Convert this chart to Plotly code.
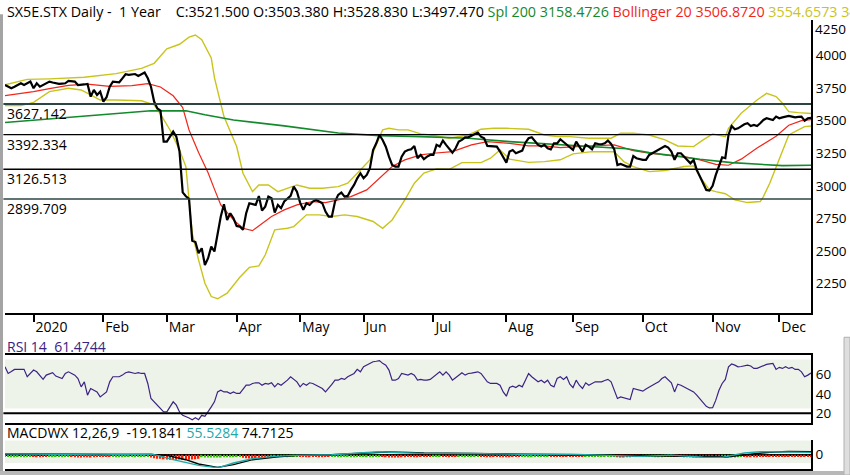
import pandas as pd
import plotly.graph_objects as go

# trading calendar of the chart (STOXX holidays are skipped on the axis)
holidays = ["2019-12-24", "2019-12-25", "2019-12-26", "2019-12-31", "2020-01-01",
            "2020-04-10", "2020-04-13", "2020-05-01"]
first_day, last_day = "2019-12-13", "2020-12-15"
sessions = pd.bdate_range(first_day, last_day, freq="C", holidays=holidays)

month_ticks = ["2020-01-02", "2020-02-03", "2020-03-02", "2020-04-01", "2020-05-04", "2020-06-01",
               "2020-07-01", "2020-08-03", "2020-09-01", "2020-10-01", "2020-11-02", "2020-12-01"]
month_labels = ["2020", "Feb", "Mar", "Apr", "May", "Jun", "Jul", "Aug", "Sep", "Oct", "Nov", "Dec"]
price_ticks = [2250, 2500, 2750, 3000, 3250, 3500, 3750, 4000]
top_tick = 4250  # drawn a little lower by the app so it clears the header

# daily close, one list per month
close_dec19 = [3773, 3760, 3748, 3760, 3773, 3786, 3773, 3786, 3799]
close_jan = [3748, 3786, 3760, 3773, 3786, 3799, 3792, 3786, 3781, 3784, 3786, 3804, 3800, 3799,
             3773, 3773, 3777, 3781, 3684, 3735, 3697, 3722]
close_feb = [3646, 3679, 3760, 3799, 3797, 3794, 3824, 3855, 3850, 3853, 3857, 3842, 3855, 3868,
             3824, 3760, 3646, 3594, 3577, 3339]
close_mar = [3339, 3377, 3416, 3377, 3263, 2950, 2920, 2900, 2580, 2570, 2484, 2522, 2394, 2446,
             2535, 2497, 2637, 2765, 2859, 2739, 2790, 2752]
close_apr = [2693, 2688, 2663, 2790, 2867, 2860, 2854, 2922, 2811, 2841, 2918, 2905, 2795, 2854,
             2829, 2880, 2900, 2923, 2994, 2956]
close_may = [2872, 2816, 2867, 2854, 2880, 2892, 2880, 2867, 2803, 2765, 2765, 2880, 2931, 2949,
             2918, 2923, 2969, 3007, 3058, 3097]
close_jun = [3058, 3084, 3135, 3275, 3326, 3390, 3352, 3300, 3224, 3160, 3148, 3148, 3224, 3263,
             3275, 3280, 3306, 3212, 3237, 3204, 3224, 3237]
close_jul = [3237, 3314, 3301, 3347, 3314, 3280, 3255, 3288, 3339, 3352, 3372, 3372, 3383, 3398,
             3408, 3377, 3365, 3306, 3303, 3301, 3301, 3263, 3219]
close_aug = [3178, 3263, 3275, 3250, 3263, 3270, 3331, 3365, 3372, 3339, 3314, 3301, 3314, 3288,
             3280, 3326, 3326, 3357, 3339, 3314, 3296]
close_sep = [3275, 3339, 3301, 3263, 3314, 3301, 3280, 3326, 3321, 3319, 3326, 3347, 3321, 3280,
             3160, 3168, 3158, 3148, 3148, 3229, 3212, 3205]
close_oct = [3199, 3199, 3237, 3250, 3263, 3275, 3288, 3306, 3293, 3263, 3199, 3250, 3250, 3224,
             3199, 3173, 3199, 3122, 3071, 3020, 2969, 2964]
close_nov = [3000, 3084, 3160, 3219, 3212, 3390, 3459, 3434, 3441, 3459, 3472, 3480, 3459, 3467,
             3459, 3480, 3505, 3518, 3513, 3505, 3531]
close_dec = [3518, 3525, 3531, 3536, 3531, 3525, 3528, 3531, 3500, 3518, 3521.5]

# 200-day simple average
sma_dates = ["2019-12-13", "2020-01-09", "2020-01-31", "2020-02-24", "2020-03-10", "2020-03-18",
             "2020-03-31", "2020-04-24", "2020-05-20", "2020-06-08", "2020-06-25", "2020-07-16",
             "2020-08-04", "2020-08-28", "2020-09-24", "2020-10-05", "2020-10-27", "2020-11-10",
             "2020-11-25", "2020-12-02", "2020-12-15"]
sma200 = [3486, 3512, 3544, 3575, 3576, 3545, 3505, 3460, 3405, 3385, 3377, 3365, 3339, 3314,
          3285, 3255, 3204, 3178, 3160, 3155, 3158.4726]

# Bollinger 20 middle line
mid_dates = ["2019-12-13", "2020-01-02", "2020-01-09", "2020-01-17", "2020-01-27", "2020-02-05",
             "2020-02-14", "2020-02-21", "2020-02-27", "2020-03-04", "2020-03-09", "2020-03-11",
             "2020-03-16", "2020-03-19", "2020-03-23", "2020-03-25", "2020-03-31", "2020-04-03",
             "2020-04-08", "2020-04-15", "2020-04-20", "2020-04-24", "2020-04-30", "2020-05-08",
             "2020-05-14", "2020-05-20", "2020-05-26", "2020-06-02", "2020-06-08", "2020-06-12",
             "2020-06-18", "2020-06-25", "2020-07-01", "2020-07-09", "2020-07-17", "2020-07-24",
             "2020-08-04", "2020-08-12", "2020-08-19", "2020-08-26", "2020-09-02", "2020-09-09",
             "2020-09-18", "2020-09-28", "2020-10-05", "2020-10-12", "2020-10-20", "2020-10-27",
             "2020-11-03", "2020-11-09", "2020-11-13", "2020-11-20", "2020-11-30", "2020-12-04",
             "2020-12-10", "2020-12-15"]
boll_mid = [3692, 3722, 3745, 3770, 3780, 3762, 3768, 3784, 3758, 3690, 3600, 3428, 3255, 3100,
            2975, 2854, 2739, 2675, 2657, 2714, 2765, 2816, 2854, 2880, 2872, 2892, 2918, 2969,
            3058, 3148, 3199, 3237, 3250, 3263, 3314, 3339, 3326, 3306, 3306, 3293, 3301, 3306,
            3314, 3270, 3250, 3237, 3224, 3199, 3165, 3158, 3205, 3290, 3380, 3465, 3500, 3506.872]

# Bollinger upper band
up_dates = ["2019-12-13", "2019-12-27", "2020-01-09", "2020-01-24", "2020-02-07", "2020-02-19",
            "2020-02-25", "2020-03-02", "2020-03-06", "2020-03-11", "2020-03-13", "2020-03-17",
            "2020-03-20", "2020-03-23", "2020-03-26", "2020-04-01", "2020-04-03", "2020-04-08",
            "2020-04-14", "2020-04-17", "2020-04-22", "2020-04-27", "2020-04-30", "2020-05-07",
            "2020-05-13", "2020-05-20", "2020-05-25", "2020-05-28", "2020-06-03", "2020-06-05",
            "2020-06-09", "2020-06-11", "2020-06-16", "2020-06-19", "2020-06-25", "2020-06-30",
            "2020-07-08", "2020-07-16", "2020-07-22", "2020-07-28", "2020-08-03", "2020-08-12",
            "2020-08-19", "2020-08-25", "2020-08-31", "2020-09-08", "2020-09-17", "2020-09-22",
            "2020-09-28", "2020-10-05", "2020-10-12", "2020-10-16", "2020-10-23", "2020-10-28",
            "2020-11-02", "2020-11-06", "2020-11-09", "2020-11-13", "2020-11-20", "2020-11-25",
            "2020-11-30", "2020-12-02", "2020-12-04", "2020-12-09", "2020-12-15"]
boll_up = [3775, 3816, 3820, 3832, 3860, 3900, 3939, 4050, 4085, 4140, 4156, 4120, 3980, 3830,
           3531, 3301, 3097, 2956, 3007, 3007, 2956, 2982, 3007, 2982, 2982, 2994, 3020, 3097,
           3199, 3314, 3429, 3441, 3429, 3429, 3398, 3390, 3365, 3390, 3434, 3441, 3441, 3434,
           3390, 3377, 3377, 3365, 3365, 3403, 3403, 3390, 3352, 3306, 3301, 3352, 3398, 3377,
           3441, 3556, 3658, 3709, 3684, 3633, 3569, 3561, 3554.6573]

# Bollinger lower band
low_dates = ["2019-12-13", "2019-12-20", "2020-01-02", "2020-01-09", "2020-01-17", "2020-01-23",
             "2020-01-29", "2020-01-31", "2020-02-07", "2020-02-19", "2020-02-25", "2020-02-27",
             "2020-03-03", "2020-03-06", "2020-03-10", "2020-03-11", "2020-03-12", "2020-03-16",
             "2020-03-18", "2020-03-20", "2020-03-24", "2020-03-27", "2020-04-02", "2020-04-07",
             "2020-04-14", "2020-04-16", "2020-04-21", "2020-04-27", "2020-04-29", "2020-05-06",
             "2020-05-12", "2020-05-18", "2020-05-22", "2020-05-28", "2020-06-04", "2020-06-09",
             "2020-06-12", "2020-06-18", "2020-06-23", "2020-06-26", "2020-07-02", "2020-07-08",
             "2020-07-14", "2020-07-22", "2020-07-27", "2020-07-30", "2020-08-04", "2020-08-12",
             "2020-08-19", "2020-08-26", "2020-09-01", "2020-09-09", "2020-09-18", "2020-09-23",
             "2020-09-28", "2020-10-05", "2020-10-12", "2020-10-20", "2020-10-23", "2020-10-27",
             "2020-10-30", "2020-11-03", "2020-11-06", "2020-11-11", "2020-11-17", "2020-11-23",
             "2020-11-24", "2020-11-26", "2020-11-30", "2020-12-02", "2020-12-04", "2020-12-09",
             "2020-12-11", "2020-12-15"]
boll_low = [3615, 3615, 3640, 3722, 3748, 3735, 3684, 3658, 3658, 3652, 3620, 3550, 3428, 3275,
            3148, 2918, 2637, 2433, 2254, 2152, 2135, 2178, 2300, 2375, 2387, 2470, 2663, 2675,
            2688, 2778, 2778, 2765, 2778, 2765, 2727, 2675, 2739, 2892, 3020, 3098, 3130, 3127,
            3178, 3178, 3212, 3275, 3205, 3180, 3186, 3200, 3245, 3262, 3262, 3186, 3148, 3109,
            3118, 3148, 3153, 3071, 2969, 2956, 2940, 2892, 2872, 2880, 2918, 3020, 3148, 3275,
            3390, 3429, 3454, 3459]

levels = [3627.142, 3392.334, 3126.513, 2899.709]
level_colors = ["#2c4444", "#000000", "#000000", "#2c4444"]
level_widths = [2, 1.2, 1.5, 1.5]

# RSI 14, daily
rsi_dec19 = [67.9, 61.0, 62.9, 65.2, 65.2, 65.2, 65.2, 57.6, 61.0]
rsi_jan = [64.5, 62.7, 58.2, 54.9, 59.3, 60.6, 61.8, 58.3, 57.1, 55.8, 61.0, 62.7, 61.0, 59.3,
           55.8, 47.2, 52.4, 38.7, 45.5, 43.7, 42.0, 36.9]
rsi_feb = [39.5, 42.0, 52.4, 57.6, 57.6, 57.6, 59.3, 61.8, 62.7, 61.9, 61.0, 61.8, 61.0, 61.0,
           50.7, 35.2, 31.8, 28.3, 24.9, 21.4]
rsi_mar = [21.4, 26.6, 31.8, 28.3, 21.4, 17.9, 16.9, 15.2, 13.4, 15.5, 13.4, 17.9, 16.9, 21.4,
           26.6, 31.8, 42.0, 43.7, 42.0, 42.0, 40.4, 42.0]
rsi_apr = [40.4, 40.4, 44.4, 48.9, 48.9, 50.7, 51.4, 51.4, 48.9, 50.7, 50.0, 51.4, 47.2, 50.7,
           48.9, 51.4, 54.1, 57.6, 54.9, 52.4]
rsi_may = [47.2, 50.7, 48.9, 51.4, 50.7, 48.9, 47.2, 45.5, 42.0, 45.5, 49.7, 54.1, 54.1, 55.8,
           54.9, 57.6, 59.2, 61.0, 65.2, 62.7]
rsi_jun = [67.9, 69.6, 72.0, 73.1, 73.6, 74.2, 71.4, 69.6, 64.5, 54.1, 54.1, 55.8, 61.0, 60.4,
           59.3, 61.0, 59.3, 54.1, 54.9, 54.1, 54.1, 54.9]
rsi_jul = [57.6, 60.3, 62.7, 59.3, 62.7, 59.3, 54.1, 56.6, 59.3, 61.8, 59.3, 61.0, 61.3, 61.8,
           62.7, 61.0, 56.6, 52.4, 50.7, 50.7, 50.7, 48.9, 42.0]
rsi_aug = [37.6, 46.5, 47.9, 46.5, 48.9, 47.2, 54.1, 61.0, 57.6, 55.0, 52.4, 54.1, 51.4, 54.1,
           48.9, 47.2, 55.8, 57.6, 54.9, 57.6, 50.0]
rsi_sep = [46.5, 54.1, 48.9, 45.5, 51.4, 48.9, 50.7, 52.4, 52.4, 52.4, 53.7, 54.9, 52.4, 43.7,
           35.2, 36.9, 35.9, 35.2, 34.1, 45.5, 44.6, 43.7]
rsi_oct = [42.8, 45.0, 47.2, 48.9, 50.7, 52.4, 55.8, 57.6, 54.9, 51.4, 42.0, 50.0, 48.9, 47.2,
           45.4, 43.7, 42.0, 38.7, 35.2, 31.8, 27.2, 25.5]
rsi_nov = [25.8, 33.5, 43.7, 50.7, 54.9, 67.9, 70.7, 69.6, 67.9, 68.2, 68.7, 69.6, 68.7, 66.2,
           66.2, 67.7, 69.6, 70.4, 70.9, 71.4, 65.2]
rsi_dec = [67.3, 66.2, 67.9, 66.2, 67.3, 65.2, 65.2, 62.7, 57.6, 59.3, 61.4744]

# MACD 12,26,9: macd line (teal) and signal (black)
macd_dates = ["2019-12-13", "2020-01-09", "2020-01-31", "2020-02-24", "2020-02-26", "2020-03-04",
              "2020-03-10", "2020-03-16", "2020-03-23", "2020-03-25", "2020-03-31", "2020-04-08",
              "2020-04-21", "2020-04-29", "2020-05-18", "2020-06-02", "2020-06-08", "2020-06-17",
              "2020-06-26", "2020-07-17", "2020-08-07", "2020-08-31", "2020-09-23", "2020-09-30",
              "2020-10-14", "2020-10-28", "2020-11-05", "2020-11-16", "2020-11-23", "2020-11-30",
              "2020-12-08", "2020-12-15"]
macd = [20, 15, -5, 15, -16, -120, -184, -256, -304, -296, -200, -96, -40, -16, 0, 56, 72, 48,
        32, 30, 10, 12, -30, -40, -10, -60, -64, 40, 70, 72, 62, 55.5284]
signal_dates = ["2019-12-13", "2020-01-09", "2020-01-31", "2020-02-24", "2020-03-02", "2020-03-10",
                "2020-03-16", "2020-03-24", "2020-03-31", "2020-04-08", "2020-04-22", "2020-05-04",
                "2020-05-18", "2020-06-02", "2020-06-10", "2020-06-19", "2020-06-26", "2020-07-17",
                "2020-08-07", "2020-08-31", "2020-09-25", "2020-10-09", "2020-10-29", "2020-11-06",
                "2020-11-18", "2020-11-26", "2020-12-04", "2020-12-15"]
signal = [15, 15, 5, 8, -16, -120, -224, -304, -240, -120, -48, -16, 0, 32, 64, 56, 40, 30, 15,
          12, -20, -25, -45, -55, 20, 60, 75, 74.7125]
macd_hist_last = -19.1841

# histogram bars as drawn (sign gives the colour, bars hang below the zero line)
hist_dec19 = [55, 55, 60, 60, 55, 55, 60, 55, 55]
hist_jan = [-55, -60, -60, -55, -55, 55, 60, 55, 55, 60, 55, 55, -55, -60, -65, -65, -60, -60,
            -65, -60, -55, -55]
hist_feb = [-55, -55, -55, 55, 60, 60, 60, 55, 55, 55, 60, 55, 55, 55, 55, -70, -85, -95, -100,
            -110]
hist_mar = [-115, -120, -125, -120, -115, -120, -125, -120, -115, -110, -100, 60, 65, 70, 70, 70,
            65, 65, 60, 60, 60, 60]
hist_apr = [55, 55, -75, -85, -90, -90, -85, -80, -80, -75, -70, 55, 55, 60, 55, 55, 60, 55, 55, 55]
hist_may = [-55, -55, -60, -60, -55, -55, -60, -60, -55, -55, 55, 55, 60, 60, 55, 55, 60, 60, 55, 55]
hist_jun = [55, 60, 60, 60, 55, 55, -55, -60, -65, -70, -70, -65, -60, -60, -55, -55, -60, -60,
            -55, -55, -55, -55]
hist_jul = [55, 55, 55, -55, -55, -60, -55, -55, 55, 55, 60, 55, 55, 55, 55, -55, -55, -60, -60,
            -55, -55, -60, -60]
hist_aug = [-60, -60, -55, -55, -55, 55, 55, 60, 60, 55, 55, 55, 55, 55, -55, -55, -55, -55, -55,
            -55, -55]
hist_sep = [-55, -55, -55, -55, 55, 55, 55, 55, 55, 55, 55, 55, 55, 55, -60, -65, -65, -60, -60,
            -55, -55, -55]
hist_oct = [55, 55, 55, 55, 60, 60, 60, 55, 55, 55, -55, -55, -55, -60, -60, -60, -65, -65, -70,
            -70, -65, -60]
hist_nov = [-55, -55, -55, 60, 65, 70, 70, 65, 60, 55, -55, -60, -60, -60, -60, -55, -55, -55,
            -55, -55, -55]
hist_dec = [-55, -55, -55, -55, -55, -55, -55, -55, -55, -55, -55]

close = (close_dec19 + close_jan + close_feb + close_mar + close_apr + close_may + close_jun
         + close_jul + close_aug + close_sep + close_oct + close_nov + close_dec)
rsi = (rsi_dec19 + rsi_jan + rsi_feb + rsi_mar + rsi_apr + rsi_may + rsi_jun + rsi_jul
       + rsi_aug + rsi_sep + rsi_oct + rsi_nov + rsi_dec)
hist = (hist_dec19 + hist_jan + hist_feb + hist_mar + hist_apr + hist_may + hist_jun + hist_jul
        + hist_aug + hist_sep + hist_oct + hist_nov + hist_dec)
assert len(close) == len(sessions) == len(rsi) == len(hist), (len(close), len(sessions), len(rsi), len(hist))

FONT = "Open Sans"
YELLOW = "#c9c41c"
RED = "#f2261a"
GREEN = "#138a2c"
PURPLE = "#3b2383"
TEAL = "#1fa8a8"
BAND = "#eef3ea"

fig = go.Figure()
fig.add_trace(go.Scatter(x=up_dates, y=boll_up, mode="lines", line=dict(color=YELLOW, width=1.4)))
fig.add_trace(go.Scatter(x=low_dates, y=boll_low, mode="lines", line=dict(color=YELLOW, width=1.4)))
fig.add_trace(go.Scatter(x=mid_dates, y=boll_mid, mode="lines", line=dict(color=RED, width=1.2)))
fig.add_trace(go.Scatter(x=sma_dates, y=sma200, mode="lines", line=dict(color=GREEN, width=1.6)))
fig.add_trace(go.Scatter(x=sessions, y=close, mode="lines", line=dict(color="black", width=2.2)))

fig.add_trace(go.Scatter(x=sessions, y=rsi, mode="lines", line=dict(color=PURPLE, width=1.2),
                         xaxis="x2", yaxis="y2"))

fig.add_trace(go.Bar(x=sessions, y=[-abs(v) for v in hist],
                     marker=dict(color=["#33c200" if v > 0 else "#ff1a00" for v in hist], line_width=0),
                     xaxis="x3", yaxis="y3"))
fig.add_trace(go.Scatter(x=signal_dates, y=signal, mode="lines", line=dict(color="black", width=1.4),
                         xaxis="x3", yaxis="y3"))
fig.add_trace(go.Scatter(x=macd_dates, y=macd, mode="lines", line=dict(color=TEAL, width=1.4),
                         xaxis="x3", yaxis="y3"))

breaks = [dict(bounds=["sat", "mon"]), dict(values=holidays)]
xbase = dict(type="date", range=[first_day, last_day], rangebreaks=breaks, showgrid=False,
             zeroline=False, automargin=False, linecolor="black")
ybase = dict(side="right", showgrid=False, zeroline=False, automargin=False, ticks="",
             showline=True, linecolor="black", tickfont=dict(size=13.5))

fig.update_layout(
    width=850, height=475,
    margin=dict(l=5, r=39, t=0, b=0),
    template="none",
    paper_bgcolor="white", plot_bgcolor="white",
    showlegend=False, bargap=0.5,
    font=dict(family=FONT, size=14, color="black"),
    xaxis=dict(xbase, anchor="y", showline=True, linewidth=2, ticks="outside", ticklen=7,
               tickwidth=2, tickcolor="black", tickvals=month_ticks, ticktext=month_labels,
               ticklabelposition="outside right", tickfont=dict(size=14)),
    yaxis=dict(ybase, domain=[0.3411, 0.9579], range=[2026, 4271], anchor="x", linewidth=2,
               tickvals=price_ticks),
    xaxis2=dict(xbase, anchor="y2", showline=True, mirror=True, linewidth=2,
                showticklabels=False, ticks=""),
    yaxis2=dict(ybase, domain=[0.1095, 0.2526], range=[10, 80], anchor="x2", linewidth=2,
                tickvals=[20, 40, 60]),
    xaxis3=dict(xbase, anchor="y3", showline=True, linewidth=1.5, showticklabels=False, ticks=""),
    yaxis3=dict(ybase, domain=[0.0133, 0.0737], range=[-336, 353], anchor="x3", linewidth=1.5,
                tickvals=[0], zeroline=True, zerolinecolor="black", zerolinewidth=1.5),
)

# top price label, nudged down below the header like the original
fig.add_annotation(text=str(top_tick), xref="paper", x=1, xanchor="left", xshift=2,
                   yref="y", y=top_tick, yanchor="middle", yshift=-6, showarrow=False,
                   font=dict(size=13.5))

# support / resistance levels with their labels
for lv, col, w in zip(levels, level_colors, level_widths):
    fig.add_shape(type="line", xref="x domain", x0=-0.002, x1=1, yref="y", y0=lv, y1=lv,
                  line=dict(color=col, width=w))
    fig.add_annotation(text=f"{lv:.3f}", xref="paper", x=0, xanchor="left", yref="y", y=lv,
                       yanchor="top", yshift=2, showarrow=False, font=dict(size=14))

# panel backgrounds and the RSI 20 line
fig.add_shape(type="rect", xref="x2 domain", x0=0, x1=1, yref="y2", y0=25, y1=75.5,
              fillcolor=BAND, line_width=0, layer="below")
fig.add_shape(type="line", xref="x2 domain", x0=-0.002, x1=1, yref="y2", y0=20, y1=20,
              line=dict(color="black", width=2))
fig.add_shape(type="rect", xref="x3 domain", x0=0, x1=1, yref="y3", y0=-200, y1=340,
              fillcolor=BAND, line_width=0, layer="below")

# window frame
fig.add_shape(type="rect", xref="paper", yref="paper", x0=-5 / 806, x1=-2 / 806, y0=0, y1=0.97,
              fillcolor="#a4a4a4", line_width=0)
fig.add_shape(type="rect", xref="paper", yref="paper", x0=-5 / 806, x1=845 / 806, y0=0, y1=4 / 475,
              fillcolor="#b8b8b8", line_width=0)
fig.add_shape(type="rect", xref="paper", yref="paper", x0=839 / 806, x1=845 / 806, y0=0, y1=0.29,
              fillcolor="#dedede", line=dict(color="#b0b0b0", width=1))

title = ("SX5E.STX Daily -\u00a0\u00a01 Year\u00a0\u00a0\u00a0 C:3521.500 O:3503.380 H:3528.830 L:3497.470 "
         f"<span style='color:{GREEN}'>Spl 200 {sma200[-1]:.4f}</span> "
         f"<span style='color:{RED}'>Bollinger 20 {boll_mid[-1]:.4f}</span> "
         f"<span style='color:{YELLOW}'>{boll_up[-1]:.4f} {boll_low[-1]:.4f}</span>")
fig.add_annotation(text=title, xref="paper", x=0, xanchor="left", yref="paper", y=1 - 11 / 475,
                   yanchor="middle", showarrow=False, font=dict(size=14.3))
fig.add_annotation(text=f"RSI 14\u00a0\u00a0{rsi[-1]:.4f}", xref="paper", x=0, xanchor="left",
                   yref="paper", y=1 - 346 / 475, yanchor="middle", showarrow=False,
                   font=dict(size=14, color=PURPLE))
fig.add_annotation(text=(f"MACDWX 12,26,9\u00a0\u00a0{macd_hist_last:.4f} "
                         f"<span style='color:{TEAL}'>{macd[-1]:.4f}</span> {signal[-1]:.4f}"),
                   xref="paper", x=0, xanchor="left", yref="paper", y=1 - 432 / 475,
                   yanchor="middle", showarrow=False, font=dict(size=14))

fig.write_html("out.html", config={"displayModeBar": False},
               post_script="document.body.style.margin='0px';")
